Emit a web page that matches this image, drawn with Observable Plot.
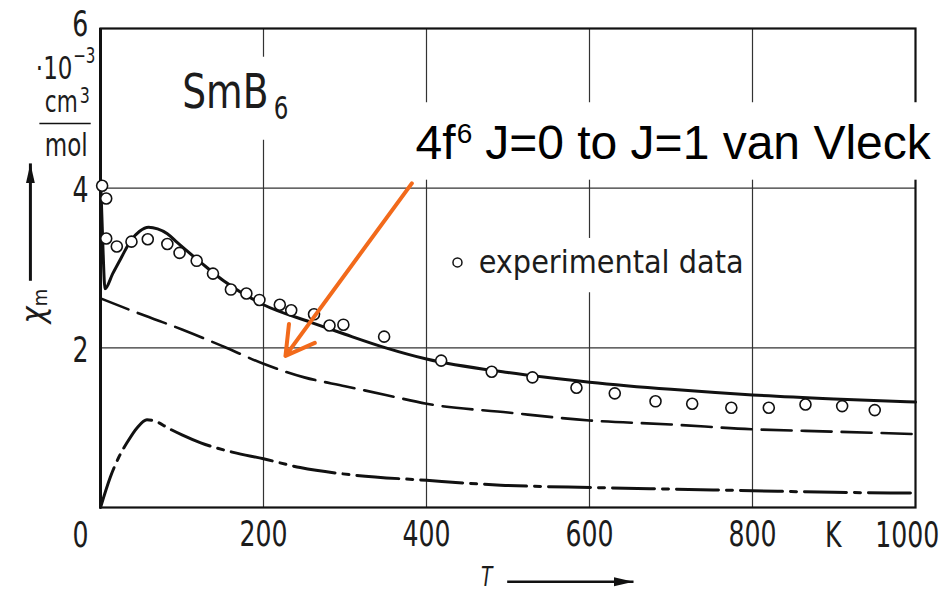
<!DOCTYPE html>
<html>
<head>
<meta charset="utf-8">
<script src="https://cdn.jsdelivr.net/npm/d3@7"></script>
<script src="https://cdn.jsdelivr.net/npm/@observablehq/plot@0.6"></script>
<style>
  html, body { margin: 0; padding: 0; background: #fff; }
  #chart svg { display: block; }
</style>
</head>
<body>
<div id="chart"></div>
<script>
// ---- tick labels / grid ----
const xTickValues = [200, 400, 600, 800];
const xLastTick = ["1000"];
const yTickValues = [2, 4];
const yTopTick = ["6"];
const xGrid = [200, 400, 600, 800];
const yGrid = [2, 4];

// ---- experimental data (T in K, chi in 10^-3 cm^3/mol) ----
const expT   = [2, 7, 7, 20, 38, 58, 82, 97, 118, 138, 160, 179, 195, 220, 234, 262, 281, 298, 348, 418, 480, 530, 584, 631, 681, 726, 774, 820, 865, 910, 950];
const expChi = [4.03, 3.87, 3.37, 3.27, 3.33, 3.36, 3.30, 3.19, 3.09, 2.93, 2.73, 2.68, 2.60, 2.54, 2.47, 2.42, 2.28, 2.29, 2.14, 1.84, 1.70, 1.63, 1.50, 1.43, 1.33, 1.30, 1.25, 1.25, 1.29, 1.27, 1.22];

// ---- total calculated susceptibility (solid) ----
const totalT   = [0.5, 3, 5.5, 15, 25, 37, 48, 59, 70, 82, 94, 123, 151, 200, 258, 300, 350, 400, 500, 600, 700, 800, 900, 1000];
const totalChi = [4.0, 3.25, 2.74, 2.93, 3.12, 3.34, 3.46, 3.51, 3.49, 3.43, 3.32, 3.07, 2.84, 2.54, 2.32, 2.17, 2.00, 1.86, 1.69, 1.57, 1.48, 1.41, 1.36, 1.32];

// ---- van Vleck J=0 -> J=1 contribution (dashed) ----
const vvT   = [0, 50, 100, 150, 200, 250, 300, 350, 400, 500, 600, 700, 800, 900, 1000];
const vvChi = [2.62, 2.42, 2.23, 2.02, 1.80, 1.63, 1.52, 1.41, 1.30, 1.19, 1.09, 1.04, 0.98, 0.95, 0.92];

// ---- second contribution (dash-dot) ----
const ddT   = [0, 12, 22, 33, 45, 57, 70, 82, 100, 123, 163, 200, 245, 307, 400, 491, 604, 700, 800, 900, 1000];
const ddChi = [0, 0.38, 0.62, 0.82, 1.00, 1.10, 1.07, 1.00, 0.91, 0.81, 0.69, 0.61, 0.50, 0.41, 0.34, 0.28, 0.25, 0.23, 0.21, 0.19, 0.18];

// ---- texts ----
const compoundText = ["SmB", "6"];
const legendText = ["experimental data"];
const annotationText = ["4f", "6", "J=0 to J=1 van Vleck"];
const unitText = ["·10", "−3", "cm", "3", "mol"];
const axisText = ["0", "K", "T", "χ", "m"];

const toRows = (T, C) => T.map((t, i) => ({T: t, chi: C[i]}));
const experimental = toRows(expT, expChi);
const total = toRows(totalT, totalChi);
const vanVleck = toRows(vvT, vvChi);
const dashDot = toRows(ddT, ddChi);

const narrow = "'DejaVu Sans Condensed','Liberation Sans Narrow','Noto Sans',sans-serif";
const arial = "'Liberation Sans',Arial,sans-serif";
const ink = "#111";
const textInk = "#1c1c1c";
const arrowInk = "#111112"; // used to find the axis-title arrows afterwards
const one = [0];

const chart = Plot.plot({
  width: 943,
  height: 591,
  marginLeft: 100,
  marginRight: 28,
  marginTop: 28,
  marginBottom: 84,
  x: {domain: [0, 1000]},
  y: {domain: [0, 6]},
  style: {background: "#fff", overflow: "visible", fontFamily: narrow, color: textInk},
  marks: [
    Plot.ruleX(xGrid, {stroke: "#333", strokeWidth: 1.2}),
    Plot.ruleY(yGrid, {stroke: "#333", strokeWidth: 1.2}),
    Plot.frame({stroke: ink, strokeWidth: 2.2}),
    Plot.ruleX([0], {stroke: ink, strokeWidth: 3}),

    // white backdrops behind the labels (they interrupt the grid)
    Plot.rect(one, {x1: 374, x2: 1034, y1: 4.10, y2: 5.07, fill: "white"}),
    Plot.rect(one, {x1: 98, x2: 233, y1: 4.60, y2: 5.64, fill: "white"}),
    Plot.rect(one, {x1: 426, x2: 791, y1: 2.69, y2: 3.37, fill: "white"}),

    // curves
    Plot.line(dashDot, {x: "T", y: "chi", curve: "monotone-x", stroke: ink, strokeWidth: 3, strokeDasharray: "42,8,6,8"}),
    Plot.line(vanVleck, {x: "T", y: "chi", curve: "monotone-x", stroke: ink, strokeWidth: 2.6, strokeDasharray: "30,10"}),
    Plot.line(total, {x: "T", y: "chi", curve: "monotone-x", stroke: ink, strokeWidth: 3}),
    Plot.dot(experimental, {x: "T", y: "chi", r: 5.5, stroke: ink, strokeWidth: 1.6, fill: "white"}),

    // compound label
    Plot.text([compoundText[0]], {x: 206, y: 5.20, text: d => d, textAnchor: "end", fontSize: 48, fill: textInk}),
    Plot.text([compoundText[1]], {x: 212.5, y: 4.99, text: d => d, textAnchor: "start", fontSize: 32, fill: textInk}),

    // legend
    Plot.dot(one, {x: 438, y: 3.07, r: 4.5, stroke: ink, strokeWidth: 1.5, fill: "white"}),
    Plot.text(legendText, {x: 464, y: 3.06, text: d => d, textAnchor: "start", fontSize: 32, fill: textInk}),

    // annotation
    Plot.text([annotationText[0]], {x: 435.6, y: 4.56, text: d => d, textAnchor: "end", fontSize: 48, fontFamily: arial, fill: "#000"}),
    Plot.text([annotationText[1]], {x: 437, y: 4.68, text: d => d, textAnchor: "start", fontSize: 28, fontFamily: arial, fill: "#000"}),
    Plot.text([annotationText[2]], {x: 472, y: 4.56, text: d => d, textAnchor: "start", fontSize: 48, fontFamily: arial, fill: "#000"}),
    Plot.arrow(one, {x1: 382, y1: 4.06, x2: 227, y2: 1.90, stroke: "#f26a1b", strokeWidth: 4, headLength: 12, headAngle: 60}),

    // axes
    Plot.axisX({ticks: xTickValues, tickSize: 0, tickPadding: 14, fontSize: 35, tickFormat: d => String(d), label: null}),
    Plot.axisY({ticks: yTickValues, tickSize: 0, tickPadding: 12, fontSize: 35, dy: 3, tickFormat: d => String(d), label: null}),
    Plot.text(yTopTick, {x: -15, y: 6, dy: -4, text: d => d, textAnchor: "end", fontSize: 35, fill: textInk}),
    Plot.text(xLastTick, {x: 990, y: -0.35, text: d => d, fontSize: 35, fill: textInk}),
    Plot.text([axisText[0]], {x: -24.5, y: -0.35, text: d => d, fontSize: 35, fill: textInk}),
    Plot.text([axisText[1]], {x: 899, y: -0.35, text: d => d, fontSize: 35, fill: textInk}),

    // x axis title with arrow
    Plot.text([axisText[2]], {x: 474, y: -0.88, text: d => d, fontSize: 26, fontStyle: "italic", fill: textInk}),
    Plot.link(one, {x1: 499, x2: 654, y1: -0.93, y2: -0.93, stroke: arrowInk, strokeWidth: 2.5}),

    // y axis title with arrow and unit
    Plot.link(one, {x1: -86, x2: -86, y1: 2.84, y2: 4.31, stroke: arrowInk, strokeWidth: 3}),
    Plot.text([axisText[3]], {x: -82, y: 2.41, text: d => d, rotate: -90, fontSize: 32, fontStyle: "italic", fill: textInk}),
    Plot.text([axisText[4]], {x: -73.6, y: 2.63, text: d => d, rotate: -90, fontSize: 20, fill: textInk}),
    Plot.text([unitText[0]], {x: -34.4, y: 5.50, text: d => d, textAnchor: "end", fontSize: 32, fill: textInk}),
    Plot.text([unitText[1]], {x: -33.5, y: 5.65, text: d => d, textAnchor: "start", fontSize: 21, fill: textInk}),
    Plot.text([unitText[2]], {x: -28, y: 5.07, text: d => d, textAnchor: "end", fontSize: 30, fill: textInk}),
    Plot.text([unitText[3]], {x: -25.5, y: 5.15, text: d => d, textAnchor: "start", fontSize: 22, fill: textInk}),
    Plot.link(one, {x1: -75, x2: -12, y1: 4.81, y2: 4.81, stroke: ink, strokeWidth: 1.5}),
    Plot.text([unitText[4]], {x: -42, y: 4.53, text: d => d, fontSize: 32, fill: textInk})
  ]
});

document.getElementById("chart").appendChild(chart);

// filled arrowheads for the axis-title arrows
const svg = d3.select(chart);
const defs = svg.insert("defs", ":first-child");
defs.append("marker")
  .attr("id", "filledHead")
  .attr("viewBox", "0 -5 20 10")
  .attr("refX", 20).attr("refY", 0)
  .attr("markerWidth", 20).attr("markerHeight", 10)
  .attr("markerUnits", "userSpaceOnUse")
  .attr("orient", "auto")
  .append("path").attr("d", "M0,-4.5L20,0L0,4.5Z").attr("fill", ink);
svg.selectAll("path").filter(function () {
  const g = this.closest("g");
  return g && g.getAttribute("stroke") === arrowInk;
}).attr("marker-end", "url(#filledHead)");

// the original lettering is a tall, narrow drafting face: squeeze the condensed
// texts horizontally about their own anchor point
const squeeze = {"SmB": 0.87, "experimental data": 1, "χ": 1, "m": 1};
svg.selectAll("text").each(function () {
  const ff = getComputedStyle(this).fontFamily || "";
  if (!ff.includes("Condensed")) return;
  const s = this.textContent;
  const k = squeeze[s] !== undefined ? squeeze[s] : 0.8;
  if (k === 1) return;
  const t0 = this.getAttribute("transform") || "";
  const ax = parseFloat(this.getAttribute("x") || 0) || 0;
  this.setAttribute("transform", `${t0} translate(${ax},0) scale(${k},1) translate(${-ax},0)`.trim());
});
</script>
</body>
</html>
